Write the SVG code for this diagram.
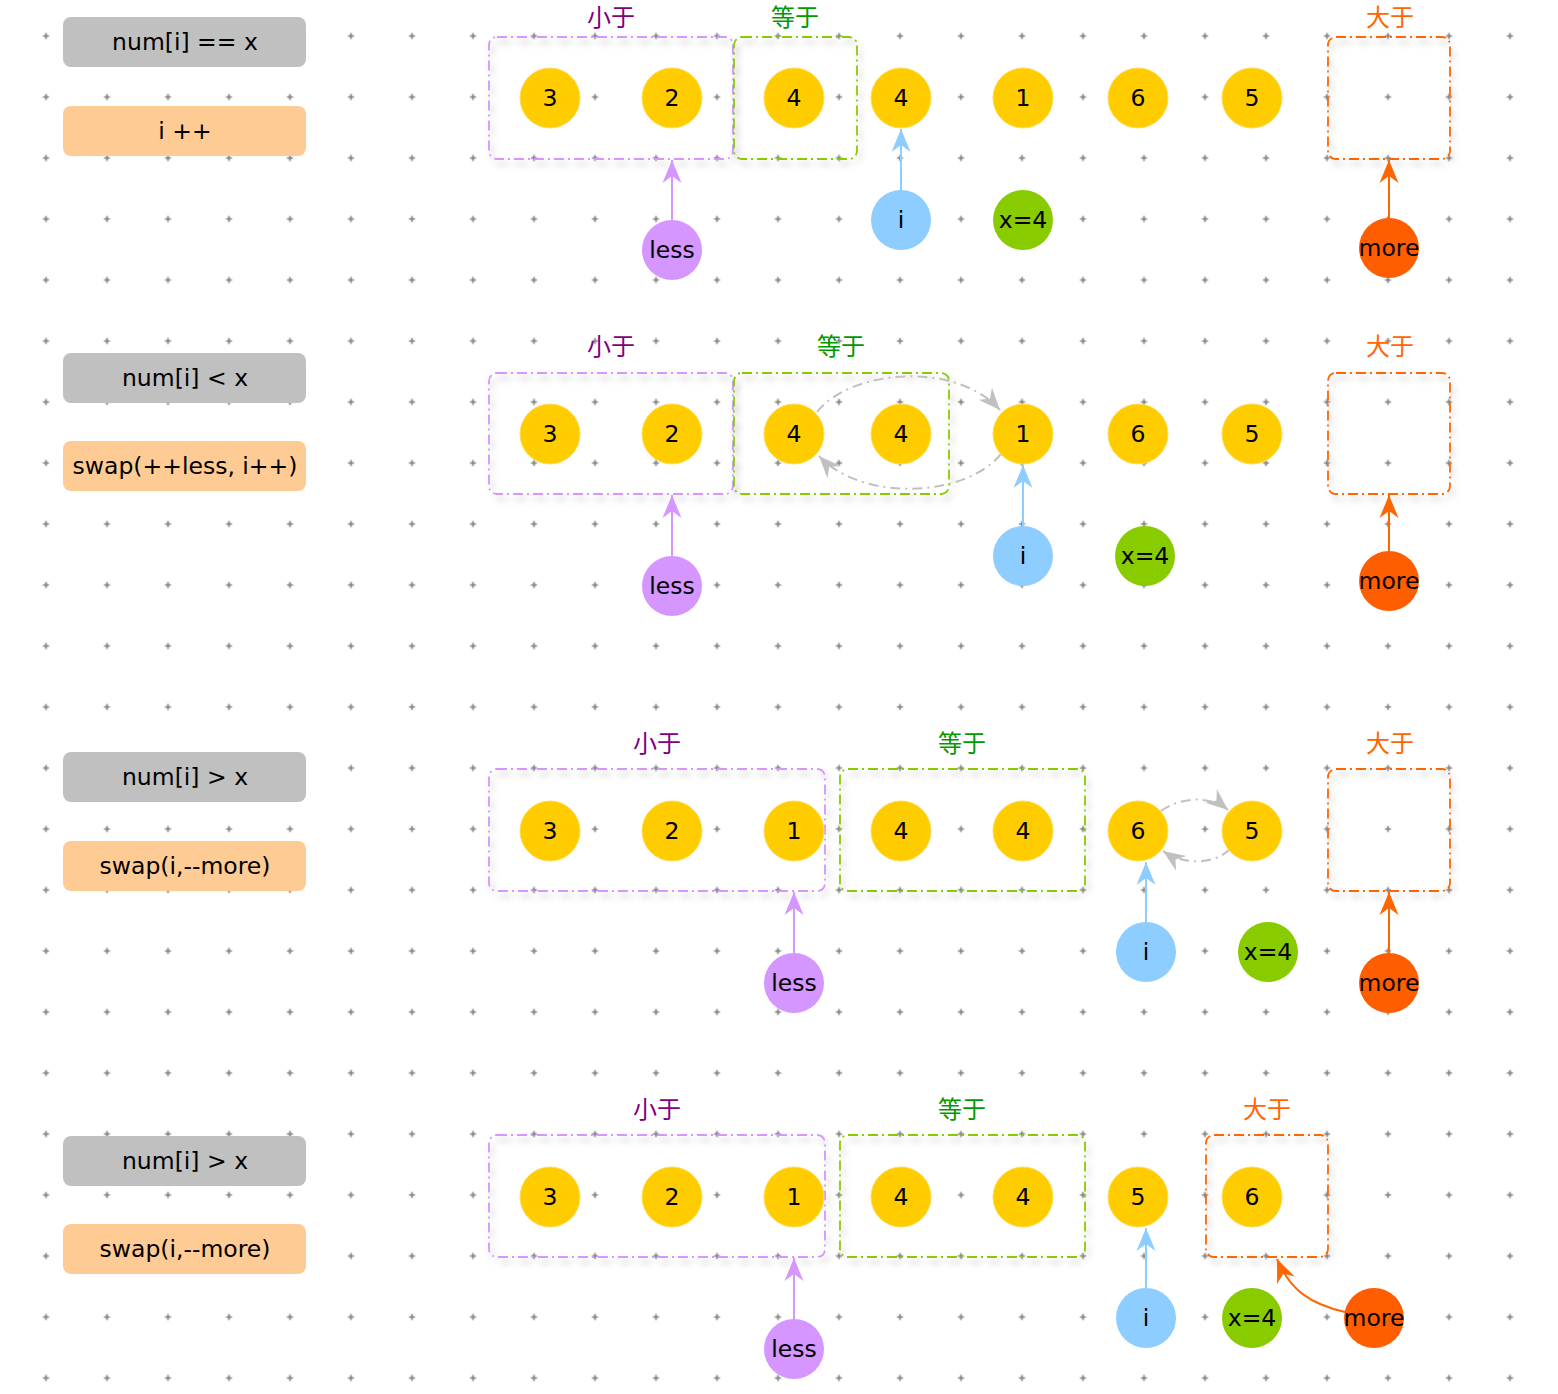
<svg xmlns="http://www.w3.org/2000/svg" width="1558" height="1394" viewBox="0 0 1558 1394">
<style>
.t{font-family:"DejaVu Sans","Liberation Sans",sans-serif;font-size:23.5px;fill:#000;text-anchor:middle}
.cn{font-family:"Noto Sans CJK SC",sans-serif;font-size:24px;text-anchor:middle}
.cond{fill:#C0C0C0}
.act{fill:#FFCB94}
.num{fill:#FFCC00;stroke:#FFDD55;stroke-width:1}
.less{fill:#D596FF}
.ip{fill:#8ECDFF}
.xv{fill:#88CC00}
.more{fill:#FF5E00}
.grp{fill:none;stroke-width:1.8;stroke-dasharray:10 4 2 4;filter:url(#sh)}
.gl{stroke:#D596FF}
.ge{stroke:#88CC00}
.gm{stroke:#FF6600}
.lp{fill:#800080}
.le{fill:#009900}
.lm{fill:#FF6600}
.swap{fill:none;stroke:#C0C0C0;stroke-width:2;stroke-dasharray:10 5 2 5}
</style>
<defs>
<pattern id="grid" x="15.5" y="5.5" width="61" height="61" patternUnits="userSpaceOnUse">
<path d="M27.5,30.5h6M30.5,27.5v6" stroke="#7A7A7A" stroke-width="1.6"/>
</pattern>
<filter id="sh" x="-10%" y="-10%" width="125%" height="130%">
<feDropShadow dx="3" dy="5" stdDeviation="3" flood-color="#000" flood-opacity="0.25"/>
</filter>
<marker id="mp" viewBox="-24 -11 26 22" refX="0" refY="0" markerWidth="26" markerHeight="22" markerUnits="userSpaceOnUse" orient="auto"><path d="M0,0 L-23,-9.5 L-16,0 L-23,9.5 Z" fill="#D596FF"/></marker>
<marker id="mb" viewBox="-24 -11 26 22" refX="0" refY="0" markerWidth="26" markerHeight="22" markerUnits="userSpaceOnUse" orient="auto"><path d="M0,0 L-23,-9.5 L-16,0 L-23,9.5 Z" fill="#8ECDFF"/></marker>
<marker id="mo" viewBox="-24 -11 26 22" refX="0" refY="0" markerWidth="26" markerHeight="22" markerUnits="userSpaceOnUse" orient="auto"><path d="M0,0 L-23,-9.5 L-16,0 L-23,9.5 Z" fill="#FF6600"/></marker>
<marker id="mg" viewBox="-24 -11 26 22" refX="0" refY="0" markerWidth="26" markerHeight="22" markerUnits="userSpaceOnUse" orient="auto"><path d="M0,0 L-22,-9 L-15,0 L-22,9 Z" fill="#C0C0C0"/></marker>
</defs>
<rect width="1558" height="1394" fill="#FFFFFF"/>
<rect width="1558" height="1394" fill="url(#grid)"/>

<!-- left condition / action boxes -->
<g id="cond1"><rect class="cond" x="63" y="17" width="243" height="50" rx="8"/><text class="t" x="185" y="50">num[i] == x</text></g>
<g id="act1"><rect class="act" x="63" y="106" width="243" height="50" rx="8"/><text class="t" x="185" y="139">i ++</text></g>
<g id="cond2"><rect class="cond" x="63" y="353" width="243" height="50" rx="8"/><text class="t" x="185" y="386">num[i] &lt; x</text></g>
<g id="act2"><rect class="act" x="63" y="441" width="243" height="50" rx="8"/><text class="t" x="185" y="474">swap(++less, i++)</text></g>
<g id="cond3"><rect class="cond" x="63" y="752" width="243" height="50" rx="8"/><text class="t" x="185" y="785">num[i] &gt; x</text></g>
<g id="act3"><rect class="act" x="63" y="841" width="243" height="50" rx="8"/><text class="t" x="185" y="874">swap(i,--more)</text></g>
<g id="cond4"><rect class="cond" x="63" y="1136" width="243" height="50" rx="8"/><text class="t" x="185" y="1169">num[i] &gt; x</text></g>
<g id="act4"><rect class="act" x="63" y="1224" width="243" height="50" rx="8"/><text class="t" x="185" y="1257">swap(i,--more)</text></g>

<!-- row 1 groups -->
<g id="r1-less-grp"><rect class="grp gl" x="489" y="37" width="244" height="122" rx="8"/><text class="cn lp" x="611" y="26">小于</text></g>
<g id="r1-eq-grp"><rect class="grp ge" x="734" y="37" width="123" height="122" rx="8"/><text class="cn le" x="795" y="26">等于</text></g>
<g id="r1-more-grp"><rect class="grp gm" x="1328" y="37" width="122" height="122" rx="8"/><text class="cn lm" x="1390" y="26">大于</text></g>
<!-- row 2 groups -->
<g id="r2-less-grp"><rect class="grp gl" x="489" y="373" width="244" height="121" rx="8"/><text class="cn lp" x="611" y="355">小于</text></g>
<g id="r2-eq-grp"><rect class="grp ge" x="734" y="373" width="215" height="121" rx="8"/><text class="cn le" x="841" y="355">等于</text></g>
<g id="r2-more-grp"><rect class="grp gm" x="1328" y="373" width="122" height="121" rx="8"/><text class="cn lm" x="1390" y="355">大于</text></g>
<!-- row 3 groups -->
<g id="r3-less-grp"><rect class="grp gl" x="489" y="769" width="336" height="122" rx="8"/><text class="cn lp" x="657" y="752">小于</text></g>
<g id="r3-eq-grp"><rect class="grp ge" x="840" y="769" width="245" height="122" rx="8"/><text class="cn le" x="962" y="752">等于</text></g>
<g id="r3-more-grp"><rect class="grp gm" x="1328" y="769" width="122" height="122" rx="8"/><text class="cn lm" x="1390" y="752">大于</text></g>
<!-- row 4 groups -->
<g id="r4-less-grp"><rect class="grp gl" x="489" y="1135" width="336" height="122" rx="8"/><text class="cn lp" x="657" y="1118">小于</text></g>
<g id="r4-eq-grp"><rect class="grp ge" x="840" y="1135" width="245" height="122" rx="8"/><text class="cn le" x="962" y="1118">等于</text></g>
<g id="r4-more-grp"><rect class="grp gm" x="1206" y="1135" width="122" height="122" rx="8"/><text class="cn lm" x="1267" y="1118">大于</text></g>

<!-- connectors -->
<g id="connectors" fill="none" stroke-width="2">
<line x1="672" y1="220" x2="672" y2="160" stroke="#D596FF" marker-end="url(#mp)"/>
<line x1="901" y1="190" x2="901" y2="129" stroke="#8ECDFF" marker-end="url(#mb)"/>
<line x1="1389" y1="218" x2="1389" y2="160" stroke="#FF6600" marker-end="url(#mo)"/>

<line x1="672" y1="556" x2="672" y2="495" stroke="#D596FF" marker-end="url(#mp)"/>
<line x1="1023" y1="526" x2="1023" y2="465" stroke="#8ECDFF" marker-end="url(#mb)"/>
<line x1="1389" y1="551" x2="1389" y2="495" stroke="#FF6600" marker-end="url(#mo)"/>
<path class="swap" d="M817,412 C850,370 955,360 1000,410" marker-end="url(#mg)"/>
<path class="swap" d="M1001,454 C965,498 862,502 819,456" marker-end="url(#mg)"/>

<line x1="794" y1="953" x2="794" y2="892" stroke="#D596FF" marker-end="url(#mp)"/>
<line x1="1146" y1="922" x2="1146" y2="862" stroke="#8ECDFF" marker-end="url(#mb)"/>
<line x1="1389" y1="953" x2="1389" y2="892" stroke="#FF6600" marker-end="url(#mo)"/>
<path class="swap" d="M1161,811 C1180,797 1210,795 1228,810" marker-end="url(#mg)"/>
<path class="swap" d="M1230,849 C1215,864 1185,866 1163,851" marker-end="url(#mg)"/>

<line x1="794" y1="1319" x2="794" y2="1258" stroke="#D596FF" marker-end="url(#mp)"/>
<line x1="1146" y1="1288" x2="1146" y2="1228" stroke="#8ECDFF" marker-end="url(#mb)"/>
<path d="M1345,1312 C1310,1304 1290,1290 1277,1259" stroke="#FF6600" marker-end="url(#mo)"/>
</g>

<!-- row 1 nodes -->
<g id="r1-n3"><circle class="num" cx="550" cy="98" r="30"/><text class="t" x="550" y="106">3</text></g>
<g id="r1-n2"><circle class="num" cx="672" cy="98" r="30"/><text class="t" x="672" y="106">2</text></g>
<g id="r1-n4a"><circle class="num" cx="794" cy="98" r="30"/><text class="t" x="794" y="106">4</text></g>
<g id="r1-n4b"><circle class="num" cx="901" cy="98" r="30"/><text class="t" x="901" y="106">4</text></g>
<g id="r1-n1"><circle class="num" cx="1023" cy="98" r="30"/><text class="t" x="1023" y="106">1</text></g>
<g id="r1-n6"><circle class="num" cx="1138" cy="98" r="30"/><text class="t" x="1138" y="106">6</text></g>
<g id="r1-n5"><circle class="num" cx="1252" cy="98" r="30"/><text class="t" x="1252" y="106">5</text></g>
<g id="r1-less"><circle class="less" cx="672" cy="250" r="30"/><text class="t" x="672" y="258">less</text></g>
<g id="r1-i"><circle class="ip" cx="901" cy="220" r="30"/><text class="t" x="901" y="228">i</text></g>
<g id="r1-x"><circle class="xv" cx="1023" cy="220" r="30"/><text class="t" x="1023" y="228">x=4</text></g>
<g id="r1-more"><circle class="more" cx="1389" cy="248" r="30"/><text class="t" x="1389" y="256">more</text></g>

<!-- row 2 nodes -->
<g id="r2-n3"><circle class="num" cx="550" cy="434" r="30"/><text class="t" x="550" y="442">3</text></g>
<g id="r2-n2"><circle class="num" cx="672" cy="434" r="30"/><text class="t" x="672" y="442">2</text></g>
<g id="r2-n4a"><circle class="num" cx="794" cy="434" r="30"/><text class="t" x="794" y="442">4</text></g>
<g id="r2-n4b"><circle class="num" cx="901" cy="434" r="30"/><text class="t" x="901" y="442">4</text></g>
<g id="r2-n1"><circle class="num" cx="1023" cy="434" r="30"/><text class="t" x="1023" y="442">1</text></g>
<g id="r2-n6"><circle class="num" cx="1138" cy="434" r="30"/><text class="t" x="1138" y="442">6</text></g>
<g id="r2-n5"><circle class="num" cx="1252" cy="434" r="30"/><text class="t" x="1252" y="442">5</text></g>
<g id="r2-less"><circle class="less" cx="672" cy="586" r="30"/><text class="t" x="672" y="594">less</text></g>
<g id="r2-i"><circle class="ip" cx="1023" cy="556" r="30"/><text class="t" x="1023" y="564">i</text></g>
<g id="r2-x"><circle class="xv" cx="1145" cy="556" r="30"/><text class="t" x="1145" y="564">x=4</text></g>
<g id="r2-more"><circle class="more" cx="1389" cy="581" r="30"/><text class="t" x="1389" y="589">more</text></g>

<!-- row 3 nodes -->
<g id="r3-n3"><circle class="num" cx="550" cy="831" r="30"/><text class="t" x="550" y="839">3</text></g>
<g id="r3-n2"><circle class="num" cx="672" cy="831" r="30"/><text class="t" x="672" y="839">2</text></g>
<g id="r3-n1"><circle class="num" cx="794" cy="831" r="30"/><text class="t" x="794" y="839">1</text></g>
<g id="r3-n4a"><circle class="num" cx="901" cy="831" r="30"/><text class="t" x="901" y="839">4</text></g>
<g id="r3-n4b"><circle class="num" cx="1023" cy="831" r="30"/><text class="t" x="1023" y="839">4</text></g>
<g id="r3-n6"><circle class="num" cx="1138" cy="831" r="30"/><text class="t" x="1138" y="839">6</text></g>
<g id="r3-n5"><circle class="num" cx="1252" cy="831" r="30"/><text class="t" x="1252" y="839">5</text></g>
<g id="r3-less"><circle class="less" cx="794" cy="983" r="30"/><text class="t" x="794" y="991">less</text></g>
<g id="r3-i"><circle class="ip" cx="1146" cy="952" r="30"/><text class="t" x="1146" y="960">i</text></g>
<g id="r3-x"><circle class="xv" cx="1268" cy="952" r="30"/><text class="t" x="1268" y="960">x=4</text></g>
<g id="r3-more"><circle class="more" cx="1389" cy="983" r="30"/><text class="t" x="1389" y="991">more</text></g>

<!-- row 4 nodes -->
<g id="r4-n3"><circle class="num" cx="550" cy="1197" r="30"/><text class="t" x="550" y="1205">3</text></g>
<g id="r4-n2"><circle class="num" cx="672" cy="1197" r="30"/><text class="t" x="672" y="1205">2</text></g>
<g id="r4-n1"><circle class="num" cx="794" cy="1197" r="30"/><text class="t" x="794" y="1205">1</text></g>
<g id="r4-n4a"><circle class="num" cx="901" cy="1197" r="30"/><text class="t" x="901" y="1205">4</text></g>
<g id="r4-n4b"><circle class="num" cx="1023" cy="1197" r="30"/><text class="t" x="1023" y="1205">4</text></g>
<g id="r4-n5"><circle class="num" cx="1138" cy="1197" r="30"/><text class="t" x="1138" y="1205">5</text></g>
<g id="r4-n6"><circle class="num" cx="1252" cy="1197" r="30"/><text class="t" x="1252" y="1205">6</text></g>
<g id="r4-less"><circle class="less" cx="794" cy="1349" r="30"/><text class="t" x="794" y="1357">less</text></g>
<g id="r4-i"><circle class="ip" cx="1146" cy="1318" r="30"/><text class="t" x="1146" y="1326">i</text></g>
<g id="r4-x"><circle class="xv" cx="1252" cy="1318" r="30"/><text class="t" x="1252" y="1326">x=4</text></g>
<g id="r4-more"><circle class="more" cx="1374" cy="1318" r="30"/><text class="t" x="1374" y="1326">more</text></g>
</svg>
